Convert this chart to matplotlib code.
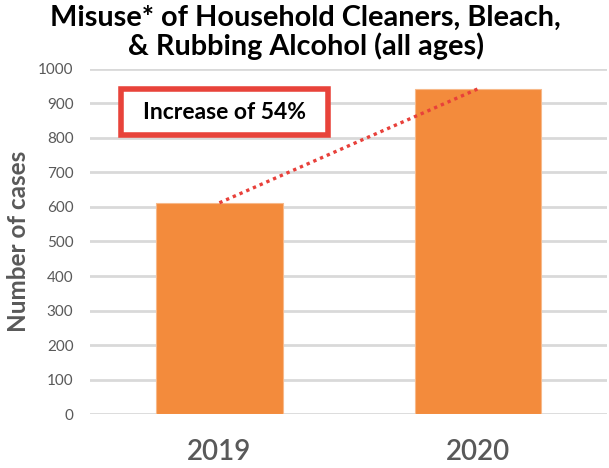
import matplotlib.pyplot as plt
from matplotlib.patches import Rectangle

years = ["2019", "2020"]
cases = [612, 942]
yticks = list(range(0, 1001, 100))

plt.rcParams['font.family'] = ['Lato', 'DejaVu Sans']

fig = plt.figure(figsize=(6.09, 4.68), dpi=100)
ax = fig.add_axes([0.148, 0.115, 0.849, 0.738])

x = range(len(years))
ax.bar(x, cases, width=0.49, color="#F38B3C", edgecolor="#F7B98A", linewidth=0.8, zorder=2)
ax.plot(x, cases, linestyle=(0, (1, 1.2)), color="#E8403A", linewidth=2.4, zorder=3)

ax.set_xlim(-0.5, 1.5)
ax.set_ylim(0, 1000)
ax.set_yticks(yticks)
ax.set_xticks(list(x))
ax.set_xticklabels(years, fontsize=20, color="#595959", fontweight="semibold")
ax.tick_params(axis="y", labelsize=11, colors="#595959", length=0, pad=12)
ax.tick_params(axis="x", length=0, pad=18)
ax.grid(axis="y", color="#D9D9D9", linewidth=2, zorder=0)
for s in ax.spines.values():
    s.set_visible(False)

ax.set_ylabel("Number of cases", fontsize=17.5, fontweight="bold", color="#595959", labelpad=6)

fig.text(0.502, 0.99, "Misuse* of Household Cleaners, Bleach,\n& Rubbing Alcohol (all ages)",
         ha="center", va="top", fontsize=20.8, fontweight="bold", linespacing=1.08)

# annotation box
ax.add_patch(Rectangle((-0.382, 807), 0.801, 134, facecolor="white", edgecolor="#E8433A",
                       linewidth=4, zorder=4))
ax.text(0.018, 874, "Increase of 54%", ha="center", va="center", fontsize=16.5,
        fontweight="bold", zorder=5)

fig.savefig("out.png", dpi=100)
